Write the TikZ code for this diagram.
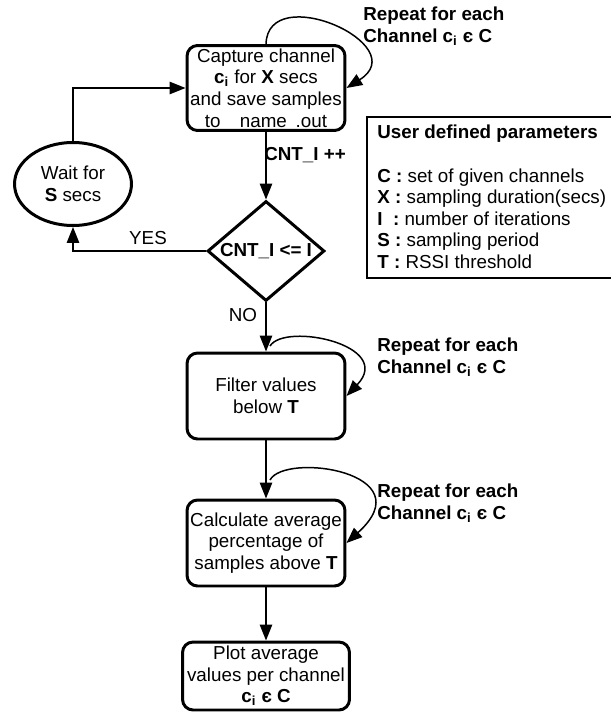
\documentclass[tikz,border=0pt]{standalone}
\usepackage{fontspec}
\setmainfont{Liberation Sans}
\usetikzlibrary{arrows.meta,shapes.geometric}
\newcommand{\chan}{\textbf{c\textsubscript{i}}}

\begin{document}
\begin{tikzpicture}[
    x=0.02cm, y=-0.02cm,
    font={\fontsize{10.7}{12.3}\selectfont},
    >={Triangle[length=9pt,width=7pt]},
    procbox/.style={draw,line width=1.7pt,rounded corners=6pt,align=center,inner sep=0pt,minimum width=3.16cm,minimum height=1.72cm},
    waitell/.style={ellipse,draw,line width=1.7pt,align=center,inner sep=0pt,minimum width=2.34cm,minimum height=1.66cm},
    decbox/.style={diamond,draw,line width=1.7pt,inner sep=0pt,minimum width=2.34cm,minimum height=2cm},
    conn/.style={->,line width=0.85pt},
    lbl/.style={font={\fontsize{10.7}{12.3}\selectfont\bfseries},align=left,inner sep=0pt}
]

    \useasboundingbox (0,0) rectangle (611,713);

    \node[procbox,minimum height=1.7cm] (cap) at (266,88) {Capture channel\\\chan{} for \textbf{X} secs\\and save samples\\to\hspace{11pt}name\hspace{5pt}.out};
    \node[waitell] (wait) at (73,184) {Wait for\\\textbf{S} secs};
    \node[decbox,label={[lbl]center:CNT\_I <= I}] (dec) at (266,251) {};
    \node[procbox] (filt) at (266,396) {Filter values\\below \textbf{T}};
    \node[procbox] (calc) at (266,543) {Calculate average\\percentage of\\samples above \textbf{T}};
    \node[procbox,minimum width=3.34cm,minimum height=1.36cm] (plot) at (266,676) {Plot average\\values per channel\\\chan{} \textbf{є C}};

    \node[lbl,anchor=west] (rep1) at (363,26) {Repeat for each\\Channel \chan{} є C};
    \node[lbl,anchor=west] (rep2) at (377,357) {Repeat for each\\Channel \chan{} є C};
    \node[lbl,anchor=west] (rep3) at (377,503) {Repeat for each\\Channel \chan{} є C};

    \node[lbl] (cnt) at (305,155) {CNT\_I ++};
    \node (yes) at (148,238) {YES};
    \node (no) at (243,315) {NO};

    % parameters
    \node[anchor=west,align=left,inner sep=0pt] (par) at (377,197) {\textbf{User defined parameters}\\[12.3pt]
        \textbf{C :} set of given channels\\
        \textbf{X :} sampling duration(secs)\\
        \textbf{I\ \ :} number of iterations\\
        \textbf{S :} sampling period\\
        \textbf{T :} RSSI threshold};
    \draw[line width=1.7pt] (611,117) -| (367,278) -- (611,278);

    \coordinate (fl) at (270,346);
    \coordinate (cl) at (270,480);

    \draw[conn] (cap.south) -- (dec.north);
    \draw[conn] (dec.west) -| (wait.south);
    \draw[conn] (wait.north) |- (cap.west);
    \draw[conn] (dec.south) -- (filt.north);
    \draw[conn] (filt.south) -- (calc.north);
    \draw[conn] (calc.south) -- (plot.north);

    \draw[conn] (cap.north) .. controls (268,-20) and (415,45) .. (cap.east);
    \draw[conn] (fl) .. controls (285,322) and (395,345) .. (filt.east);
    \draw[conn] (cl) .. controls (285,452) and (425,472) .. (calc.east);

\end{tikzpicture}
\end{document}
